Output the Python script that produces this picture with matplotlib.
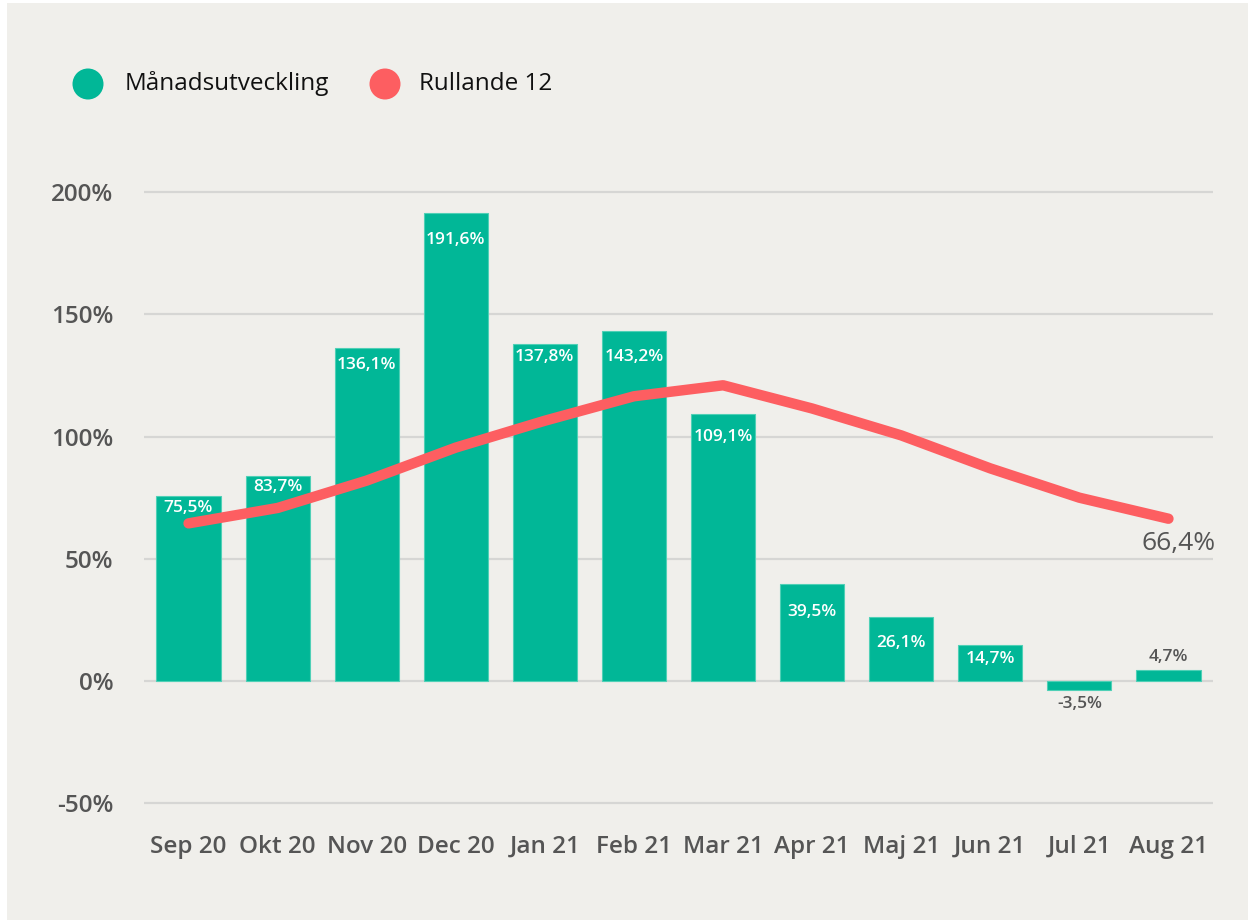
import matplotlib
matplotlib.use("Agg")
import matplotlib.pyplot as plt
from matplotlib.patches import Rectangle, Ellipse
import numpy as np

plt.rcParams['font.family'] = ['Open Sans', 'DejaVu Sans']

months = ["Sep 20", "Okt 20", "Nov 20", "Dec 20", "Jan 21", "Feb 21",
          "Mar 21", "Apr 21", "Maj 21", "Jun 21", "Jul 21", "Aug 21"]
monthly = [75.5, 83.7, 136.1, 191.6, 137.8, 143.2, 109.1, 39.5, 26.1, 14.7, -3.5, 4.7]
rolling = [64.5, 70.8, 82.0, 95.5, 106.5, 116.5, 121.0, 111.5, 100.5, 87.0, 75.0, 66.4]
yticks = [-50, 0, 50, 100, 150, 200]

# layout only: pixel distance from bar top to label centre (inside labels)
label_drop_px = [12, 11, 17, 27, 13, 26, 23, 28, 26, 14, 0, 0]

BG = "#f0efeb"
TEAL = "#01b797"
RED = "#fd5e61"
GREY = "#555555"

W, H = 1248, 922
fig = plt.figure(figsize=(W / 100, H / 100), dpi=100, facecolor="white")
fig.patches.append(Rectangle((7 / W, 2 / H), 1 - 7 / W, 1 - 5 / H,
                             transform=fig.transFigure, facecolor=BG,
                             edgecolor="none", zorder=-10))

# axes: x from 144 to 1213 px, y: 0% at 681px, 50% = 122.2px
x0, x1 = 144, 1213
ymin, ymax = -55, 205
ppu = 122.2 / 50
ybot_px = 681 + (0 - ymin) * ppu
ytop_px = 681 - ymax * ppu
ax = fig.add_axes([x0 / W, 1 - ybot_px / H, (x1 - x0) / W, (ybot_px - ytop_px) / H])
ax.set_facecolor("none")

x = np.arange(len(months))
ax.bar(x, monthly, width=0.72, color=TEAL, edgecolor="#4fd0b6", linewidth=0.8, zorder=2)
ax.plot(x, rolling, color=RED, linewidth=7.5, solid_capstyle="round",
        solid_joinstyle="round", zorder=3)

ax.set_xlim(-0.5, len(months) - 0.5)
ax.set_ylim(ymin, ymax)
ax.set_yticks(yticks)
ax.set_yticklabels([f"{v}%" for v in yticks])
ax.set_xticks(x)
ax.set_xticklabels(months)
ax.tick_params(axis="both", length=0, labelsize=17.5, labelcolor=GREY)
ax.tick_params(axis="y", pad=22)
ax.tick_params(axis="x", pad=14)
for lab in ax.get_xticklabels() + ax.get_yticklabels():
    lab.set_fontweight("semibold")
ax.grid(axis="y", color="#d6d6d4", linewidth=1.6, zorder=0)
ax.set_axisbelow(True)
for s in ax.spines.values():
    s.set_visible(False)

def fmt(v):
    return f"{v:.1f}".replace(".", ",") + "%"

for xi, v, d in zip(x, monthly, label_drop_px):
    if v > 10:
        ax.annotate(fmt(v), (xi, v), xytext=(0, -d * 0.72), textcoords="offset points",
                    ha="center", va="center", color="white", fontsize=12.5,
                    fontweight="semibold", zorder=4)
    elif v >= 0:
        ax.annotate(fmt(v), (xi, v), xytext=(0, 3), textcoords="offset points",
                    ha="center", va="bottom", color=GREY, fontsize=12.5,
                    fontweight="semibold", zorder=4)
    else:
        ax.annotate(fmt(v), (xi, v), xytext=(0, -5), textcoords="offset points",
                    ha="center", va="top", color=GREY, fontsize=12.5,
                    fontweight="semibold", zorder=4)

ax.annotate(fmt(rolling[-1]), (x[-1], rolling[-1]), xytext=(34, -9),
            textcoords="offset points", ha="right", va="top", color=GREY,
            fontsize=19, zorder=4)

# legend
leg_y = 1 - 84 / H
fig.patches.append(Ellipse((88 / W, leg_y), 31 / W, 31 / H, transform=fig.transFigure,
                           facecolor=TEAL, edgecolor="none"))
fig.text(125 / W, leg_y, "Månadsutveckling", fontsize=17.5, color="#111111",
         va="center", ha="left")
fig.patches.append(Ellipse((385 / W, leg_y), 31 / W, 31 / H, transform=fig.transFigure,
                           facecolor=RED, edgecolor="none"))
fig.text(419 / W, leg_y, "Rullande 12", fontsize=17.5, color="#111111",
         va="center", ha="left")

fig.savefig("out.png", dpi=100, facecolor="white")
